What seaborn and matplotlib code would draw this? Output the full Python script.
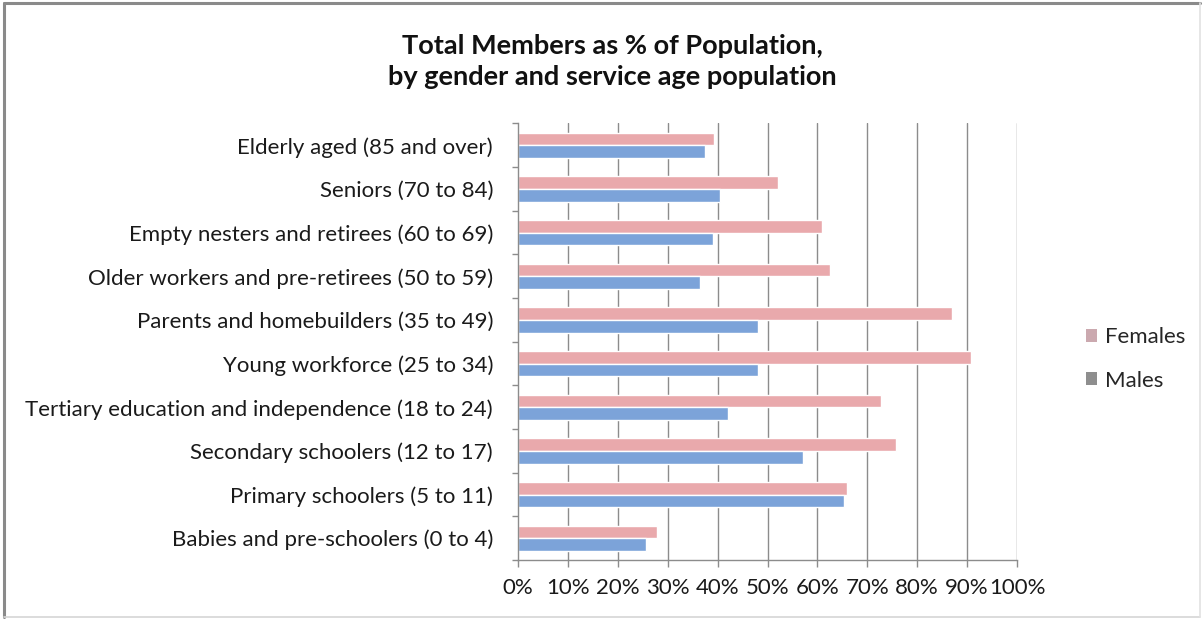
import matplotlib
matplotlib.use("Agg")
import matplotlib.pyplot as plt
from matplotlib.patches import Patch
from matplotlib.lines import Line2D
from matplotlib.ticker import FixedLocator, FuncFormatter
import seaborn as sns
import pandas as pd

groups = [
    "Elderly aged (85 and over)",
    "Seniors (70 to 84)",
    "Empty nesters and retirees (60 to 69)",
    "Older workers and pre-retirees (50 to 59)",
    "Parents and homebuilders (35 to 49)",
    "Young workforce (25 to 34)",
    "Tertiary education and independence (18 to 24)",
    "Secondary schoolers (12 to 17)",
    "Primary schoolers (5 to 11)",
    "Babies and pre-schoolers (0 to 4)",
]
females = [39.3, 52.1, 61.0, 62.6, 87.0, 90.8, 72.8, 75.8, 66.0, 27.8]
males = [37.4, 40.4, 39.0, 36.4, 48.0, 48.0, 42.0, 57.2, 65.3, 25.6]
series = ["Females", "Males"]
x_ticks = [0, 10, 20, 30, 40, 50, 60, 70, 80, 90, 100]

df = pd.DataFrame({
    "group": groups * 2,
    "sex": ["Females"] * len(groups) + ["Males"] * len(groups),
    "pct": females + males,
})

sns.set_theme(style="white")
plt.rcParams["font.family"] = ["Lato", "DejaVu Sans"]

bar_colors = {"Females": "#E9A9AC", "Males": "#7CA3D9"}
legend_colors = {"Females": "#CBA9AF", "Males": "#8E8E8E"}
grid_col = "#8C8C8C"
label_size = 16

fig = plt.figure(figsize=(12.03, 6.19), dpi=100)
fig.patch.set_facecolor("white")
ax = fig.add_axes([0.4306, 0.0953, 0.4148, 0.7052])

sns.barplot(data=df, y="group", x="pct", hue="sex", hue_order=series,
            order=groups, palette=bar_colors, orient="h", width=0.58,
            saturation=1, legend=False, ax=ax)

ax.set_xlim(0, 100)
ax.set_ylim(len(groups) - 0.5, -0.5)
ax.xaxis.set_major_locator(FixedLocator(x_ticks))
ax.xaxis.set_major_formatter(FuncFormatter(lambda v, p: f"{v:.0f}%"))
ax.set_xlabel("")
ax.set_ylabel("")

for v in x_ticks[1:]:
    ax.axvline(v, color=grid_col, lw=1.0, zorder=0)

for side in ["top", "right"]:
    ax.spines[side].set_visible(False)
for side in ["left", "bottom"]:
    ax.spines[side].set_color(grid_col)
    ax.spines[side].set_linewidth(1.0)

ax.tick_params(axis="y", which="major", length=0, pad=18, labelsize=label_size,
               labelcolor="#1a1a1a")
ax.yaxis.set_minor_locator(FixedLocator([i - 0.5 for i in range(len(groups) + 1)]))
ax.tick_params(axis="y", which="minor", left=True, length=4, width=1,
               color=grid_col, direction="out")
ax.tick_params(axis="x", which="major", bottom=True, length=5, width=1,
               color=grid_col, direction="out", pad=8, labelsize=label_size,
               labelcolor="#1a1a1a")

fig.text(0.509, 0.926, "Total Members as % of Population,", ha="center",
         va="center", fontsize=19.5, fontweight="bold", color="#111111")
fig.text(0.509, 0.876, "by gender and service age population", ha="center",
         va="center", fontsize=19.5, fontweight="bold", color="#111111")

handles = [Patch(facecolor=legend_colors[s], edgecolor="none", label=s) for s in series]
fig.legend(handles=handles, loc="center left", bbox_to_anchor=(0.886, 0.42),
           frameon=False, fontsize=label_size, handlelength=0.5, handleheight=0.5,
           handletextpad=0.35, labelspacing=1.05)

# chart area border
fig.add_artist(Line2D([0.0035, 0.9975], [0.995, 0.995], transform=fig.transFigure,
                      color="#8A8A8A", lw=2.2))
fig.add_artist(Line2D([0.0035, 0.0035], [0.003, 0.995], transform=fig.transFigure,
                      color="#8A8A8A", lw=2.2))
fig.add_artist(Line2D([0.0035, 0.9975], [0.003, 0.003], transform=fig.transFigure,
                      color="#D5D5D5", lw=1.2))
fig.add_artist(Line2D([0.9975, 0.9975], [0.003, 0.995], transform=fig.transFigure,
                      color="#E2E2E2", lw=1.2))

fig.savefig("out.png", dpi=100, facecolor="white")
